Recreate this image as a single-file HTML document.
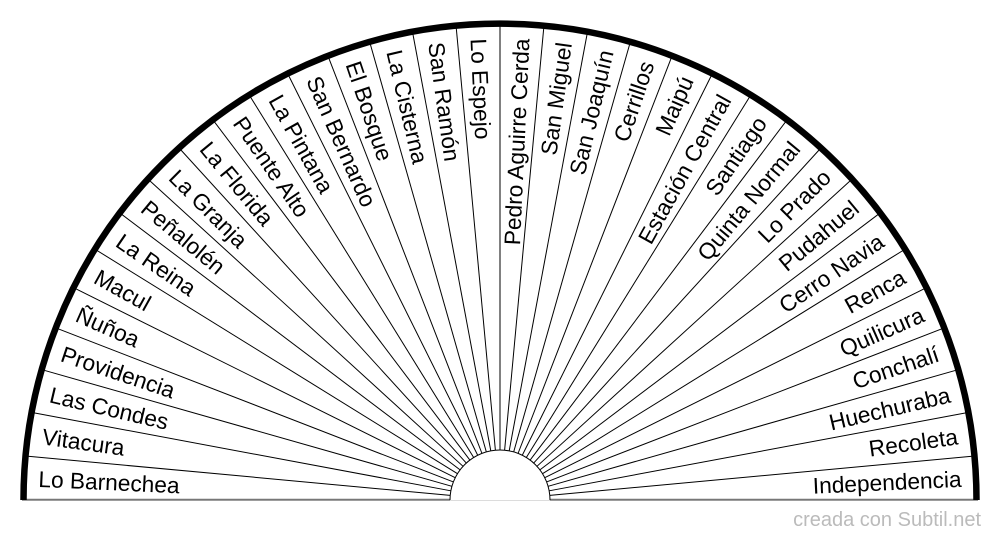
<!DOCTYPE html>
<html><head><meta charset="utf-8"><style>
html,body{margin:0;padding:0;background:#fff;}
svg{display:block;}
text{font-family:"Liberation Sans",Arial,sans-serif;font-size:22.7px;fill:#000;}
</style></head><body>
<svg width="1000" height="540" viewBox="0 0 1000 540" xmlns="http://www.w3.org/2000/svg">
<g stroke="#000" stroke-width="1">
<line x1="450" y1="500" x2="22" y2="500" transform="rotate(0 500 500)"/>
<line x1="450" y1="500" x2="22" y2="500" transform="rotate(5.294 500 500)"/>
<line x1="450" y1="500" x2="22" y2="500" transform="rotate(10.588 500 500)"/>
<line x1="450" y1="500" x2="22" y2="500" transform="rotate(15.882 500 500)"/>
<line x1="450" y1="500" x2="22" y2="500" transform="rotate(21.176 500 500)"/>
<line x1="450" y1="500" x2="22" y2="500" transform="rotate(26.471 500 500)"/>
<line x1="450" y1="500" x2="22" y2="500" transform="rotate(31.765 500 500)"/>
<line x1="450" y1="500" x2="22" y2="500" transform="rotate(37.059 500 500)"/>
<line x1="450" y1="500" x2="22" y2="500" transform="rotate(42.353 500 500)"/>
<line x1="450" y1="500" x2="22" y2="500" transform="rotate(47.647 500 500)"/>
<line x1="450" y1="500" x2="22" y2="500" transform="rotate(52.941 500 500)"/>
<line x1="450" y1="500" x2="22" y2="500" transform="rotate(58.235 500 500)"/>
<line x1="450" y1="500" x2="22" y2="500" transform="rotate(63.529 500 500)"/>
<line x1="450" y1="500" x2="22" y2="500" transform="rotate(68.824 500 500)"/>
<line x1="450" y1="500" x2="22" y2="500" transform="rotate(74.118 500 500)"/>
<line x1="450" y1="500" x2="22" y2="500" transform="rotate(79.412 500 500)"/>
<line x1="450" y1="500" x2="22" y2="500" transform="rotate(84.706 500 500)"/>
<line x1="450" y1="500" x2="22" y2="500" transform="rotate(90 500 500)"/>
<line x1="450" y1="500" x2="22" y2="500" transform="rotate(95.294 500 500)"/>
<line x1="450" y1="500" x2="22" y2="500" transform="rotate(100.588 500 500)"/>
<line x1="450" y1="500" x2="22" y2="500" transform="rotate(105.882 500 500)"/>
<line x1="450" y1="500" x2="22" y2="500" transform="rotate(111.176 500 500)"/>
<line x1="450" y1="500" x2="22" y2="500" transform="rotate(116.471 500 500)"/>
<line x1="450" y1="500" x2="22" y2="500" transform="rotate(121.765 500 500)"/>
<line x1="450" y1="500" x2="22" y2="500" transform="rotate(127.059 500 500)"/>
<line x1="450" y1="500" x2="22" y2="500" transform="rotate(132.353 500 500)"/>
<line x1="450" y1="500" x2="22" y2="500" transform="rotate(137.647 500 500)"/>
<line x1="450" y1="500" x2="22" y2="500" transform="rotate(142.941 500 500)"/>
<line x1="450" y1="500" x2="22" y2="500" transform="rotate(148.235 500 500)"/>
<line x1="450" y1="500" x2="22" y2="500" transform="rotate(153.529 500 500)"/>
<line x1="450" y1="500" x2="22" y2="500" transform="rotate(158.824 500 500)"/>
<line x1="450" y1="500" x2="22" y2="500" transform="rotate(164.118 500 500)"/>
<line x1="450" y1="500" x2="22" y2="500" transform="rotate(169.412 500 500)"/>
<line x1="450" y1="500" x2="22" y2="500" transform="rotate(174.706 500 500)"/>
<line x1="450" y1="500" x2="22" y2="500" transform="rotate(180 500 500)"/>
</g>
<line x1="22" y1="499.5" x2="978" y2="499.5" stroke="#777" stroke-width="1.5"/>
<path d="M450 500 A50 50 0 0 1 550 500" fill="#fff" stroke="#000" stroke-width="1"/>
<path d="M23.5 500 A476.5 476.5 0 0 1 976.5 500" fill="none" stroke="#000" stroke-width="6.5"/>
<g>
<text x="38" y="500" dy="0.36em" transform="rotate(2.647 500 500)">Lo Barnechea</text>
<text x="38" y="500" dy="0.36em" transform="rotate(7.941 500 500)">Vitacura</text>
<text x="38" y="500" dy="0.36em" transform="rotate(13.235 500 500)">Las Condes</text>
<text x="38" y="500" dy="0.36em" transform="rotate(18.529 500 500)">Providencia</text>
<text x="38" y="500" dy="0.36em" transform="rotate(23.824 500 500)">Ñuñoa</text>
<text x="38" y="500" dy="0.36em" transform="rotate(29.118 500 500)">Macul</text>
<text x="38" y="500" dy="0.36em" transform="rotate(34.412 500 500)">La Reina</text>
<text x="38" y="500" dy="0.36em" transform="rotate(39.706 500 500)">Peñalolén</text>
<text x="38" y="500" dy="0.36em" transform="rotate(45 500 500)">La Granja</text>
<text x="38" y="500" dy="0.36em" transform="rotate(50.294 500 500)">La Florida</text>
<text x="38" y="500" dy="0.36em" transform="rotate(55.588 500 500)">Puente Alto</text>
<text x="38" y="500" dy="0.36em" transform="rotate(60.882 500 500)">La Pintana</text>
<text x="38" y="500" dy="0.36em" transform="rotate(66.176 500 500)">San Bernardo</text>
<text x="38" y="500" dy="0.36em" transform="rotate(71.471 500 500)">El Bosque</text>
<text x="38" y="500" dy="0.36em" transform="rotate(76.765 500 500)">La Cisterna</text>
<text x="38" y="500" dy="0.36em" transform="rotate(82.059 500 500)">San Ramón</text>
<text x="38" y="500" dy="0.36em" transform="rotate(87.353 500 500)">Lo Espejo</text>
</g>
<g text-anchor="end">
<text x="962" y="500" dy="0.36em" transform="rotate(-87.353 500 500)">Pedro Aguirre Cerda</text>
<text x="962" y="500" dy="0.36em" transform="rotate(-82.059 500 500)">San Miguel</text>
<text x="962" y="500" dy="0.36em" transform="rotate(-76.765 500 500)">San Joaquín</text>
<text x="962" y="500" dy="0.36em" transform="rotate(-71.471 500 500)">Cerrillos</text>
<text x="962" y="500" dy="0.36em" transform="rotate(-66.176 500 500)">Maipú</text>
<text x="962" y="500" dy="0.36em" transform="rotate(-60.882 500 500)">Estación Central</text>
<text x="962" y="500" dy="0.36em" transform="rotate(-55.588 500 500)">Santiago</text>
<text x="962" y="500" dy="0.36em" transform="rotate(-50.294 500 500)">Quinta Normal</text>
<text x="962" y="500" dy="0.36em" transform="rotate(-45 500 500)">Lo Prado</text>
<text x="962" y="500" dy="0.36em" transform="rotate(-39.706 500 500)">Pudahuel</text>
<text x="962" y="500" dy="0.36em" transform="rotate(-34.412 500 500)">Cerro Navia</text>
<text x="962" y="500" dy="0.36em" transform="rotate(-29.118 500 500)">Renca</text>
<text x="962" y="500" dy="0.36em" transform="rotate(-23.824 500 500)">Quilicura</text>
<text x="962" y="500" dy="0.36em" transform="rotate(-18.529 500 500)">Conchalí</text>
<text x="962" y="500" dy="0.36em" transform="rotate(-13.235 500 500)">Huechuraba</text>
<text x="962" y="500" dy="0.36em" transform="rotate(-7.941 500 500)">Recoleta</text>
<text x="962" y="500" dy="0.36em" transform="rotate(-2.647 500 500)">Independencia</text>
</g>
<text x="981" y="526" text-anchor="end" style="font-size:20px;fill:#bbb">creada con Subtil.net</text>
</svg>
</body></html>
